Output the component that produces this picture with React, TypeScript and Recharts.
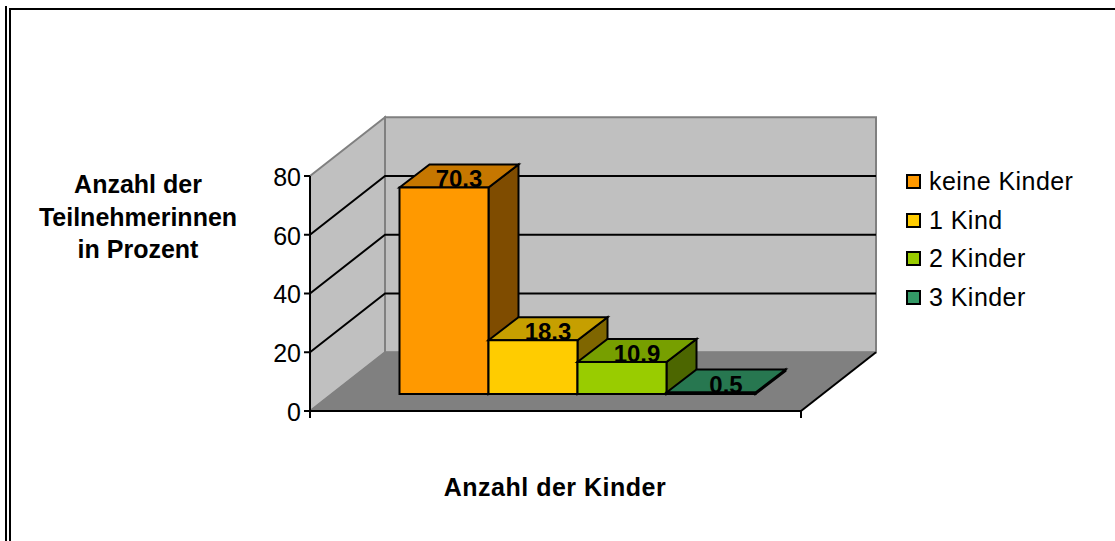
import React from "react";
import { BarChart, Bar, XAxis, YAxis, Legend, usePlotArea } from "recharts";

const categories = ["Anzahl der Kinder"];
const seriesNames = ["keine Kinder", "1 Kind", "2 Kinder", "3 Kinder"];
const seriesValues = [70.3, 18.3, 10.9, 0.5];
const yTicks = [0, 20, 40, 60, 80];
const yTitleLines = ["Anzahl der", "Teilnehmerinnen", "in Prozent"];
const xTitle = "Anzahl der Kinder";

const frontColors = ["#FF9900", "#FFCC00", "#99CC00", "#339966"];
const topColors = ["#C67700", "#C69F00", "#779F00", "#277750"];
const sideColors = ["#7F4C00", "#7F6600", "#4C6600", "#194C33"];

const FONT = "'Liberation Sans', Arial, sans-serif";
const WALL_DX = 75;
const WALL_DY = 58.75;
const BAR_DX = 30;
const BAR_DY = 23;
const BAR_SHIFT_X = 21.5;
const BAR_SHIFT_Y = 17;
const Y_MAX = 80;

const row: Record<string, string | number> = { category: categories[0] };
seriesNames.forEach((name, i) => {
  row[name] = seriesValues[i];
});
const chartData = [row];

function pts(list: number[][]) {
  return list.map((p) => p.join(",")).join(" ");
}

// back wall, side wall and floor of the 3d box
function Walls() {
  const plot = usePlotArea();
  if (!plot) return null;
  const left = plot.x;
  const right = plot.x + plot.width;
  const top = plot.y;
  const bottom = plot.y + plot.height;
  const yOf = (v: number) => bottom - (v / Y_MAX) * plot.height;

  return (
    <g>
      <polygon
        points={pts([
          [left + WALL_DX, top - WALL_DY],
          [right + WALL_DX, top - WALL_DY],
          [right + WALL_DX, bottom - WALL_DY],
          [left + WALL_DX, bottom - WALL_DY],
        ])}
        fill="#C0C0C0"
        stroke="#808080"
        strokeWidth={2}
      />
      <polygon
        points={pts([
          [left, top],
          [left + WALL_DX, top - WALL_DY],
          [left + WALL_DX, bottom - WALL_DY],
          [left, bottom],
        ])}
        fill="#C0C0C0"
        stroke="#808080"
        strokeWidth={2}
      />
      <polygon
        points={pts([
          [left, bottom],
          [left + WALL_DX, bottom - WALL_DY],
          [right + WALL_DX, bottom - WALL_DY],
          [right, bottom],
        ])}
        fill="#808080"
        stroke="#808080"
      />
      {yTicks
        .filter((v) => v > 0 && v < Y_MAX)
        .map((v) => (
          <polyline
            key={v}
            points={pts([
              [left, yOf(v)],
              [left + WALL_DX, yOf(v) - WALL_DY],
              [right + WALL_DX, yOf(v) - WALL_DY],
            ])}
            fill="none"
            stroke="#000"
            strokeWidth={2}
          />
        ))}
      <line x1={right} y1={bottom} x2={right + WALL_DX} y2={bottom - WALL_DY} stroke="#000" strokeWidth={2} />
      <line x1={left} y1={bottom} x2={left} y2={bottom + 7} stroke="#000" strokeWidth={2} />
      <line x1={right} y1={bottom} x2={right} y2={bottom + 7} stroke="#000" strokeWidth={2} />
    </g>
  );
}

function Bar3D(props: any) {
  const { x, y, width, height, value } = props;
  const color = seriesValues.indexOf(value);
  const l = x + BAR_SHIFT_X;
  const r = l + width;
  const t = y - BAR_SHIFT_Y;
  const b = t + height;
  return (
    <g stroke="#000" strokeWidth={2} strokeLinejoin="miter">
      <polygon
        points={pts([
          [r, t],
          [r + BAR_DX, t - BAR_DY],
          [r + BAR_DX, b - BAR_DY],
          [r, b],
        ])}
        fill={sideColors[color]}
      />
      <polygon
        points={pts([
          [l, t],
          [l + BAR_DX, t - BAR_DY],
          [r + BAR_DX, t - BAR_DY],
          [r, t],
        ])}
        fill={topColors[color]}
      />
      <text
        x={(l + r + BAR_DX) / 2}
        y={t}
        textAnchor="middle"
        fontFamily={FONT}
        fontSize={24}
        fontWeight="bold"
        fill="#000"
        stroke="none"
      >
        {value}
      </text>
      <rect x={l} y={t} width={width} height={height} fill={frontColors[color]} />
    </g>
  );
}

function Titles() {
  return (
    <g fontFamily={FONT} fontSize={25} fontWeight="bold" fill="#000" textAnchor="middle">
      {yTitleLines.map((line, i) => (
        <text key={line} x={138} y={193 + i * 32.5}>
          {line}
        </text>
      ))}
      <text x={555} y={496} letterSpacing={0.5}>
        {xTitle}
      </text>
    </g>
  );
}

function LegendBox({ payload }: any) {
  return (
    <div style={{ fontFamily: FONT, fontSize: 25, letterSpacing: 0.45, color: "#000" }}>
      {(payload || []).map((item: any) => (
        <div key={item.value} style={{ display: "flex", alignItems: "center", height: 38.7 }}>
          <span
            style={{
              display: "inline-block",
              boxSizing: "border-box",
              width: 15,
              height: 15,
              marginRight: 8,
              background: item.color,
              border: "2px solid #000",
            }}
          />
          <span>{item.value}</span>
        </div>
      ))}
    </div>
  );
}

export default function App() {
  return (
    <div style={{ position: "absolute", left: 0, top: 0, width: 1115, height: 541, background: "#fff" }}>
      <div style={{ position: "absolute", left: 5, top: 6, width: 2, height: 535, background: "#000" }} />
      <div style={{ position: "absolute", left: 9, top: 8, width: 2, height: 533, background: "#000" }} />
      <div style={{ position: "absolute", left: 9, top: 8, width: 1106, height: 2, background: "#000" }} />
      <BarChart
        width={1115}
        height={541}
        data={chartData}
        margin={{ top: 176, right: 314, bottom: 0, left: 260 }}
        barGap={0}
        barSize={89}
      >
        <Walls />
        <XAxis
          dataKey="category"
          tick={false}
          tickLine={false}
          axisLine={{ stroke: "#000", strokeWidth: 2 }}
          height={130}
        />
        <YAxis
          width={50}
          domain={[0, Y_MAX]}
          ticks={yTicks}
          interval={0}
          tickSize={6}
          tickMargin={3}
          tick={{ fontFamily: FONT, fontSize: 25, fill: "#000", dy: 1 }}
          tickLine={{ stroke: "#000", strokeWidth: 2 }}
          axisLine={{ stroke: "#000", strokeWidth: 2 }}
        />
        {seriesNames.map((name, i) => (
          <Bar
            key={name}
            dataKey={name}
            name={name}
            fill={frontColors[i]}
            shape={Bar3D}
            isAnimationActive={false}
          />
        ))}
        <Titles />
        <Legend
          content={LegendBox}
          layout="vertical"
          verticalAlign="middle"
          align="center"
          itemSorter={null}
          wrapperStyle={{ left: 906, top: 162, width: 190 }}
        />
      </BarChart>
    </div>
  );
}
